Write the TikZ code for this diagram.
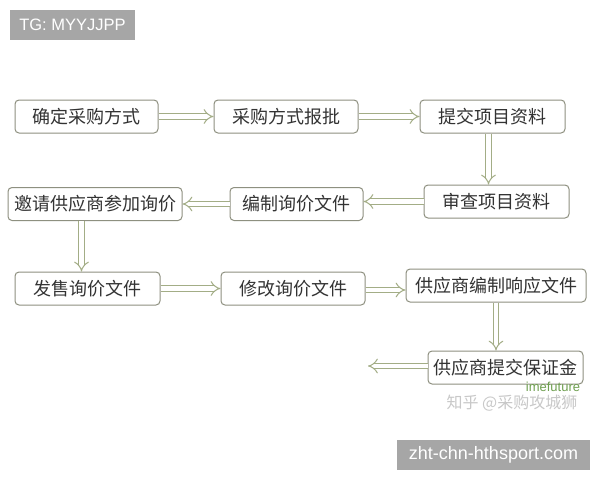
\documentclass[tikz,border=0pt]{standalone}
\usepackage{fontspec}
\setmainfont{Liberation Sans}
\newfontfamily\cjk{Noto Sans CJK SC}
\usetikzlibrary{arrows.meta}
\definecolor{boxline}{HTML}{8E9080}
\definecolor{arrline}{HTML}{A3AD86}
\definecolor{txt}{HTML}{333333}
\definecolor{tag}{HTML}{A6A6A6}
\definecolor{wm}{HTML}{C8C8C8}
\definecolor{wmgreen}{HTML}{6FA050}
\tikzset{
  stepbox/.style={draw=boxline, line width=1pt, rounded corners=4pt, fill=white,
    minimum height=33pt, inner sep=0pt, text=txt,
    font=\cjk\fontsize{18}{21}\selectfont},
  flowarrow/.style={draw=arrline, line width=1pt, double=white,
    double distance=4.2pt, -{Implies}},
  tagbox/.style={fill=tag, text=white, inner sep=0pt}
}
\begin{document}
\begin{tikzpicture}[x=1pt,y=-1pt]
\useasboundingbox[fill=white] (0,0) rectangle (600,480);
% tags
\node[tagbox, minimum width=125pt, minimum height=30pt, font=\fontsize{16.5}{18}\selectfont] (tg) at (72.5,25) {TG: MYYJJPP};
\node[tagbox, minimum width=193pt, minimum height=30pt, font=\fontsize{18}{20}\selectfont] (site) at (493.5,455) {zht-chn-hthsport.com};
% boxes
\node[stepbox, minimum width=143pt] (a1) at (86.5,116.5) {确定采购方式};
\node[stepbox, minimum width=144pt] (a2) at (286,116.5) {采购方式报批};
\node[stepbox, minimum width=145pt] (a3) at (492.5,116.5) {提交项目资料};
\node[stepbox, minimum width=145pt] (a4) at (496.5,201.5) {审查项目资料};
\node[stepbox, minimum width=133pt] (a5) at (296.5,204) {编制询价文件};
\node[stepbox, minimum width=174pt] (a6) at (95,204) {邀请供应商参加询价};
\node[stepbox, minimum width=145pt] (a7) at (87.5,288.5) {发售询价文件};
\node[stepbox, minimum width=144pt] (a8) at (293,288.5) {修改询价文件};
\node[stepbox, minimum width=180pt] (a9) at (496,285.5) {供应商编制响应文件};
\node[stepbox, minimum width=155pt] (a10) at (505.5,367.5) {供应商提交保证金};
\coordinate (end) at (368,367.5);
% watermark
\node[text=wmgreen, font=\fontsize{13}{14}\selectfont, inner sep=0pt] (wm1) at (553,387) {imefuture};
\node[text=wm, font=\cjk\fontsize{16}{18}\selectfont, inner sep=0pt] (wm2) at (512,403) {知乎 @采购攻城狮};
% arrows
\draw[flowarrow] (a1.east) -- (a2.west);
\draw[flowarrow] (a2.east) -- (a3.west);
\draw[flowarrow] ([xshift=-4pt]a3.south) -- ([xshift=-4pt]a3.south |- a4.north);
\draw[flowarrow] (a4.west) -- (a4.west -| a5.east);
\draw[flowarrow] (a5.west) -- (a5.west -| a6.east);
\draw[flowarrow] ([xshift=-6pt]a7.north |- a6.south) -- ([xshift=-6pt]a7.north);
\draw[flowarrow] (a7.east) -- (a8.west);
\draw[flowarrow] ([yshift=-1.5pt]a8.east) -- ([yshift=-1.5pt]a8.east -| a9.west);
\draw[flowarrow] (a9.south) -- (a9.south |- a10.north);
\draw[flowarrow] ([yshift=1.5pt]a10.west) -- ([yshift=1.5pt]end);
\end{tikzpicture}
\end{document}
